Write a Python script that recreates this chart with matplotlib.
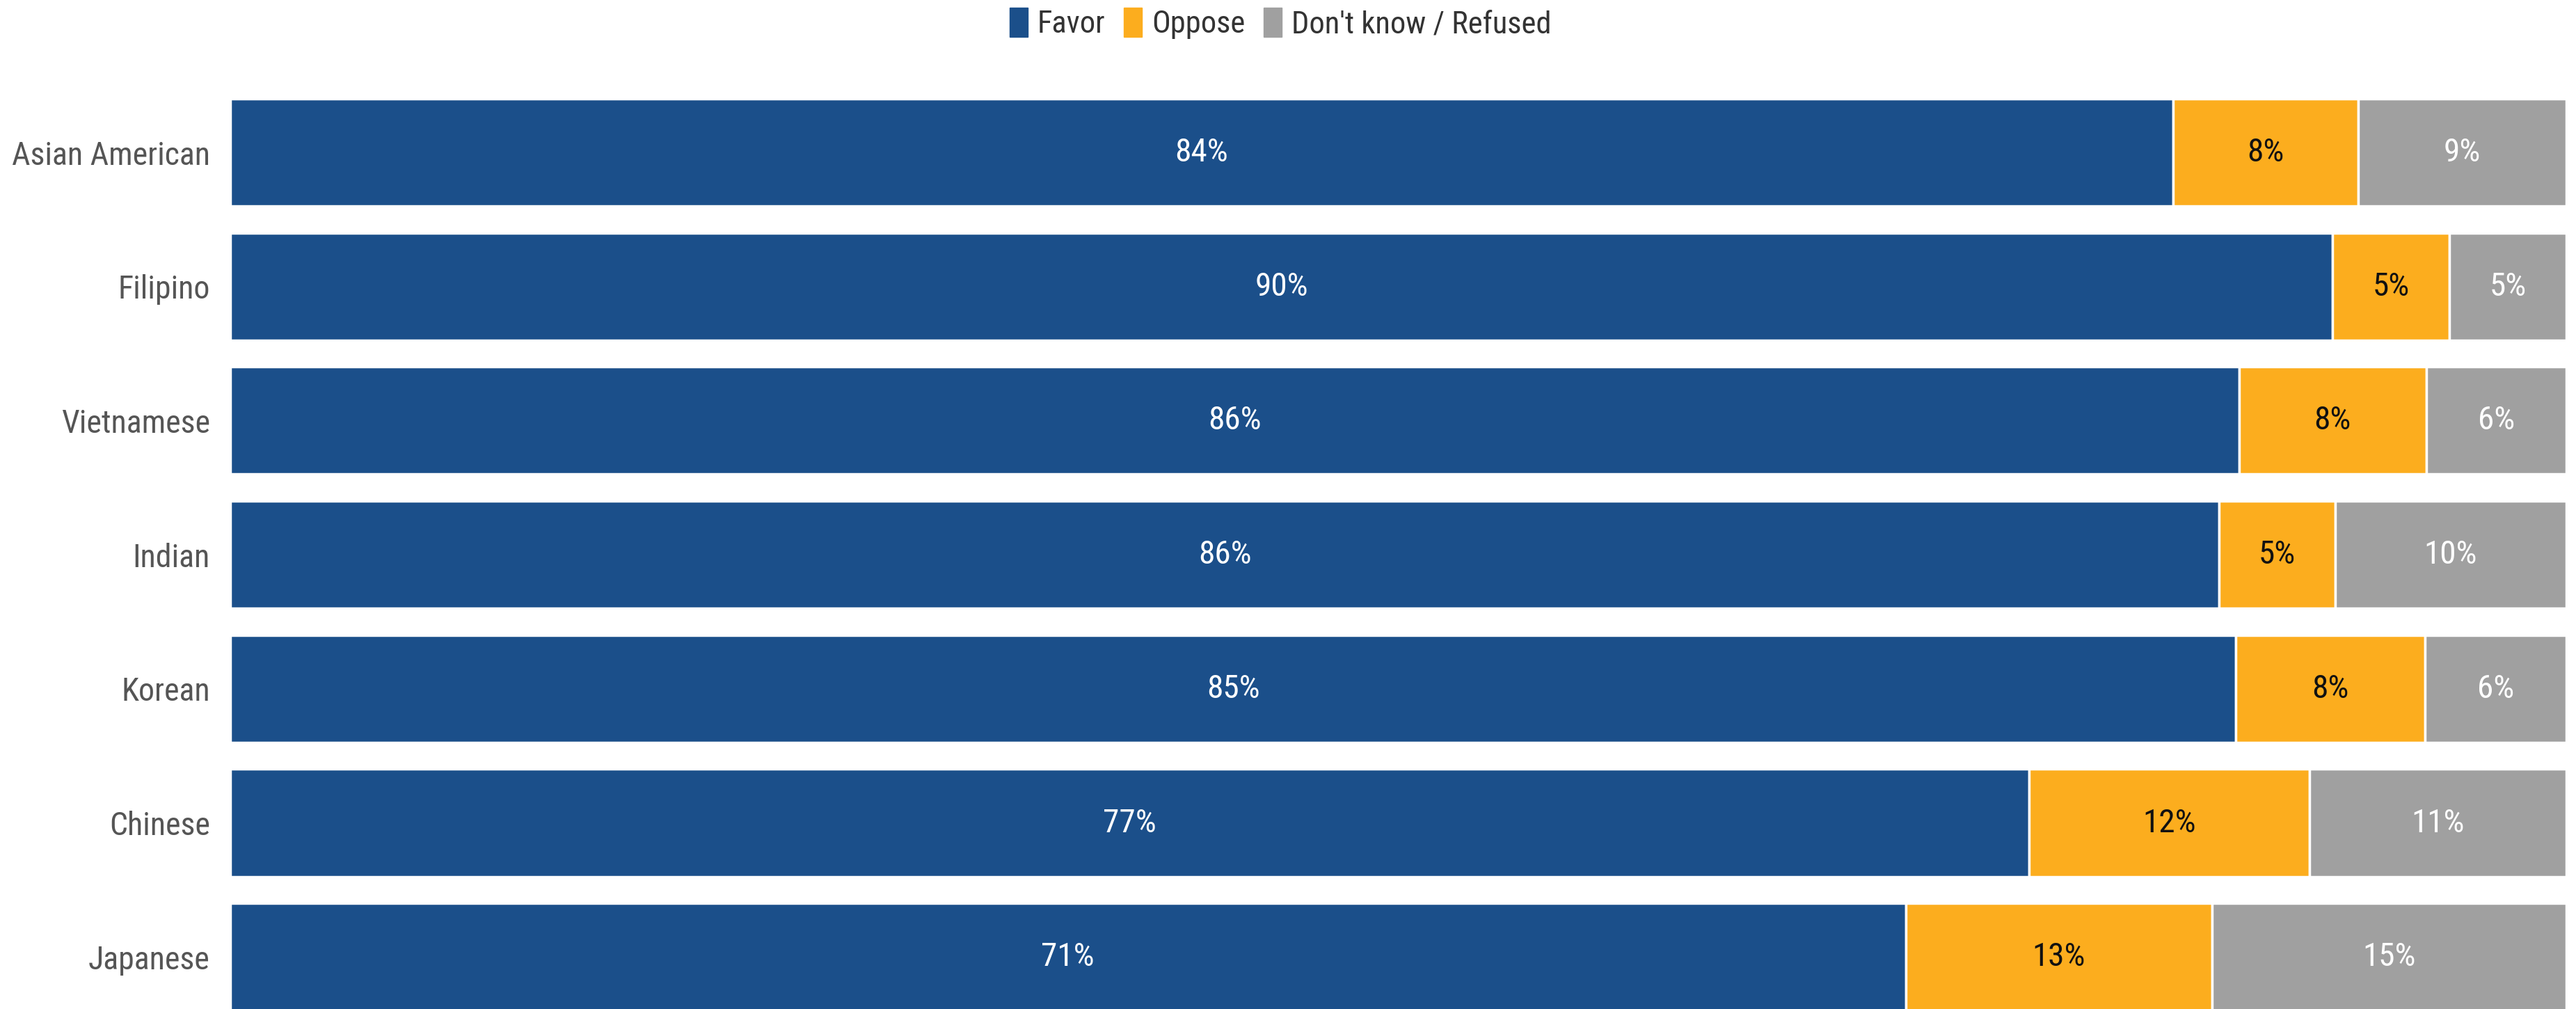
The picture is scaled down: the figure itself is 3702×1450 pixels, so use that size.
import numpy as np
import matplotlib.pyplot as plt
from matplotlib.patches import Patch
from matplotlib import font_manager

# pick a narrow font if one is installed
names = {f.name for f in font_manager.fontManager.ttflist}
family = [f for f in ['Roboto Condensed', 'Liberation Sans Narrow', 'Roboto'] if f in names] + ['DejaVu Sans']
plt.rcParams['font.family'] = family

# Data
groups = ['Asian American', 'Filipino', 'Vietnamese', 'Indian', 'Korean', 'Chinese', 'Japanese']
favor = [84, 90, 86, 86, 85, 77, 71]
oppose = [8, 5, 8, 5, 8, 12, 13]
dont_know = [9, 5, 6, 10, 6, 11, 15]

series = ['Favor', 'Oppose', "Don't know / Refused"]
colors = ['#1b4f8a', '#fcad1e', '#a0a0a0']
text_colors = ['white', '#111111', 'white']

vals = np.array([favor, oppose, dont_know], dtype=float)
shares = vals / vals.sum(axis=0) * 100

fig = plt.figure(figsize=(37.02, 14.5), dpi=100)
ax = fig.add_axes([331 / 3702, 0, (3688 - 331) / 3702, 1])

y = np.arange(len(groups))
left = np.zeros(len(groups))
for k in range(3):
    ax.barh(y, shares[k], left=left, height=0.8, color=colors[k],
            edgecolor='white', linewidth=2.5)
    for i in range(len(groups)):
        ax.text(left[i] + shares[k][i] / 2, y[i], f'{int(vals[k][i])}%',
                ha='center', va='center', fontsize=34, color=text_colors[k])
    left += shares[k]

ax.set_xlim(0, 100)
ax.set_ylim(6.388, -1.1365)
ax.set_yticks(y)
ax.set_yticklabels(groups, fontsize=33, color='#555555')
ax.tick_params(axis='y', length=0, pad=21)
ax.set_xticks([])
for s in ax.spines.values():
    s.set_visible(False)

handles = [Patch(facecolor=c, edgecolor=c) for c in colors]
fig.legend(handles, series, loc='center', bbox_to_anchor=(0.497, 0.977), ncol=3,
           frameon=False, fontsize=32, handlelength=0.6, handleheight=1.1,
           handletextpad=0.3, columnspacing=0.6, labelcolor='#333333')

fig.savefig('out.png', dpi=100)
